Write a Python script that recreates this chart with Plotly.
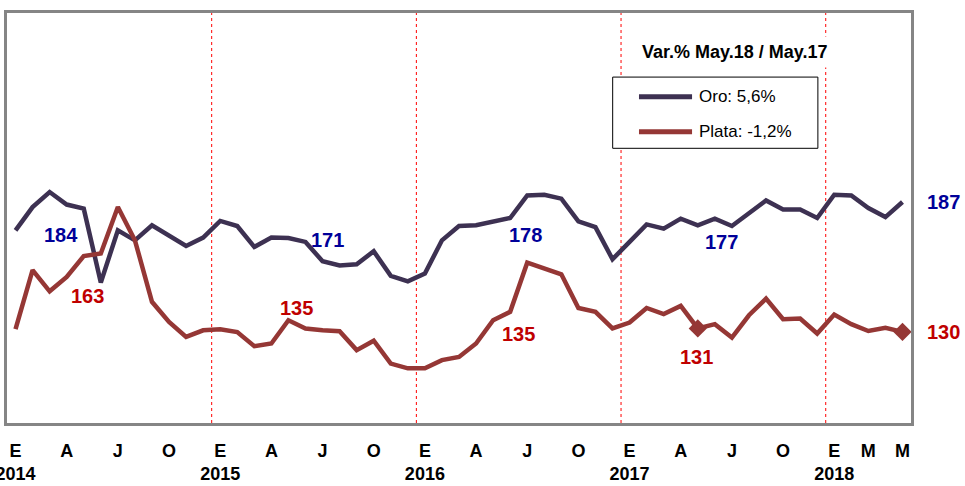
import plotly.graph_objects as go

# monthly index, Jan 2014 .. May 2018 (53 months)
months = list(range(53))
oro = [174.6, 184.8, 191.4, 185.9, 184.1, 151.7, 174.6, 170.2, 176.8, 172.4, 167.7, 171.4,
       178.7, 176.5, 167.3, 171.4, 171.2, 169.5, 161.0, 159.2, 159.7, 165.4, 154.6, 152.2,
       155.6, 170.2, 176.5, 176.8, 178.2, 180.0, 189.9, 190.2, 188.5, 178.5, 176.0, 161.9,
       169.5, 177.2, 175.3, 179.7, 176.8, 179.7, 176.5, 181.9, 187.7, 183.7, 183.7, 180.0,
       190.2, 189.9, 184.4, 180.4, 187.0]
plata = [131.2, 157.1, 147.8, 154.1, 163.3, 164.4, 184.8, 170.2, 143.2, 134.4, 127.8, 130.7,
         131.2, 129.9, 123.7, 124.9, 135.1, 131.5, 130.7, 130.3, 122.0, 126.1, 116.1, 114.0,
         114.0, 117.6, 119.0, 124.9, 135.1, 138.8, 160.4, 157.8, 155.3, 140.5, 138.8, 131.5,
         134.1, 140.5, 137.8, 141.4, 131.5, 133.4, 127.5, 137.3, 144.6, 135.6, 135.9, 129.3,
         137.6, 133.4, 130.4, 131.8, 130.0]
plata_marked = [40, 52]

tick_idx = [0, 3, 6, 9, 12, 15, 18, 21, 24, 27, 30, 33, 36, 39, 42, 45, 48, 50, 52]
tick_letters = ["E", "A", "J", "O"] * 4 + ["E", "M", "M"]
years = {0: "2014", 12: "2015", 24: "2016", 36: "2017", 48: "2018"}

# value labels inside the plot: text, x, y, series
lbl_text = ["184", "163", "135", "171", "178", "135", "177", "131"]
lbl_x = [2.64, 4.2, 16.5, 18.3, 29.9, 29.5, 41.4, 39.9]
lbl_y = [172.4, 145.8, 140.5, 170.5, 172.4, 128.9, 169.5, 119.0]
lbl_series = ["oro", "plata", "plata", "oro", "oro", "plata", "oro", "plata"]
# last-value labels, right of the plot
last_text = {"oro": "187", "plata": "130"}

ORO = "#3d3152"
PLATA = "#953735"
LBL = {"oro": "#000099", "plata": "#c00000"}
FONT = "Liberation Sans, Arial, sans-serif"

fig = go.Figure()
fig.add_trace(go.Scatter(x=months, y=oro, mode="lines", name="Oro",
                         line=dict(color=ORO, width=4.5)))
fig.add_trace(go.Scatter(x=months, y=plata, mode="lines", name="Plata",
                         line=dict(color=PLATA, width=4.5)))
fig.add_trace(go.Scatter(x=plata_marked, y=[plata[i] for i in plata_marked], mode="markers",
                         marker=dict(symbol="diamond", size=14, color=PLATA), showlegend=False))

# year separators between Dec and Jan
for k in list(years)[1:]:
    fig.add_shape(type="line", x0=k - 0.5, x1=k - 0.5, y0=0, y1=1, yref="paper",
                  line=dict(color="#ff0000", width=1, dash="dot"), layer="below")

for t, x, y, s in zip(lbl_text, lbl_x, lbl_y, lbl_series):
    fig.add_annotation(x=x, y=y, text="<b>%s</b>" % t, showarrow=False,
                       font=dict(family=FONT, size=20, color=LBL[s]))
for s, vals in [("oro", oro), ("plata", plata)]:
    fig.add_annotation(x=months[-1], y=vals[-1], text="<b>%s</b>" % last_text[s],
                       showarrow=False, xshift=41, font=dict(family=FONT, size=20, color=LBL[s]))

# legend box with title
fig.add_shape(type="rect", xref="paper", yref="paper", x0=0.670, x1=0.897, y0=0.670, y1=0.8437,
              line=dict(color="black", width=1), fillcolor="white", layer="above")
fig.add_annotation(xref="paper", yref="paper", x=0.8053, y=0.9048, xanchor="center",
                   yanchor="middle", text="<b>Var.% May.18 / May.17</b>", showarrow=False,
                   bgcolor="white", borderpad=5, font=dict(family=FONT, size=18, color="black"))
for name, col, yy in [("Oro: 5,6%", ORO, 0.7956), ("Plata: -1,2%", PLATA, 0.7101)]:
    fig.add_shape(type="line", xref="paper", yref="paper", x0=0.6991, x1=0.7578, y0=yy, y1=yy,
                  line=dict(color=col, width=5), layer="above")
    fig.add_annotation(xref="paper", yref="paper", x=0.7633, y=yy, xanchor="left",
                       yanchor="middle", text=name, showarrow=False,
                       font=dict(family=FONT, size=17, color="black"))

ticktext = []
for i, l in zip(tick_idx, tick_letters):
    if i in years:
        ticktext.append("<b>%s</b><br><b>%s</b>" % (l, years[i]))
    else:
        ticktext.append("<b>%s</b>" % l)

fig.update_layout(
    width=965, height=486,
    margin=dict(l=7, r=54, t=13, b=63, autoexpand=False),
    paper_bgcolor="white", plot_bgcolor="white",
    showlegend=False,
    xaxis=dict(range=[-0.5, 52.5], tickvals=tick_idx, ticktext=ticktext, showgrid=False,
               zeroline=False, showline=True, mirror=True, linecolor="#858585", linewidth=3,
               ticks="", ticklabelstandoff=9, tickangle=0, automargin=False,
               ticklabeloverflow="allow",
               tickfont=dict(family=FONT, size=18, color="black")),
    yaxis=dict(range=[90, 270], showticklabels=False, showgrid=False, zeroline=False,
               showline=True, mirror=True, linecolor="#858585", linewidth=3, ticks="",
               automargin=False),
)

fig.write_html("out.html", config={"displayModeBar": False},
               post_script="document.body.style.margin='0';")
